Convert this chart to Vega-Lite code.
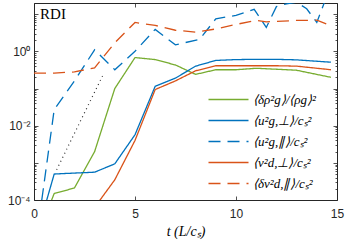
{
 "$schema": "https://vega.github.io/schema/vega-lite/v6.json",
 "width": 303, "height": 197,
 "autosize": {"type": "none"},
 "padding": {"left": 34, "top": 3, "right": 13, "bottom": 45},
 "background": "white",
 "config": {
  "view": {"stroke": "#262626", "strokeWidth": 1},
  "axis": {"domain": false, "grid": false, "labelFont": "Liberation Sans", "labelFontSize": 12, "labelColor": "#262626", "tickColor": "#262626", "tickWidth": 0.8}
 },
 "datasets": {
  "series": [
   {"s": "⟨δρ²g⟩/⟨ρg⟩²", "t": 0, "v": 0.000006},
   {"s": "⟨δρ²g⟩/⟨ρg⟩²", "t": 1, "v": 0.00015},
   {"s": "⟨δρ²g⟩/⟨ρg⟩²", "t": 2, "v": 0.00021},
   {"s": "⟨δρ²g⟩/⟨ρg⟩²", "t": 3, "v": 0.002},
   {"s": "⟨δρ²g⟩/⟨ρg⟩²", "t": 4, "v": 0.1},
   {"s": "⟨δρ²g⟩/⟨ρg⟩²", "t": 5, "v": 0.68},
   {"s": "⟨δρ²g⟩/⟨ρg⟩²", "t": 6, "v": 0.6},
   {"s": "⟨δρ²g⟩/⟨ρg⟩²", "t": 7, "v": 0.43},
   {"s": "⟨δρ²g⟩/⟨ρg⟩²", "t": 8, "v": 0.24},
   {"s": "⟨δρ²g⟩/⟨ρg⟩²", "t": 9, "v": 0.32},
   {"s": "⟨δρ²g⟩/⟨ρg⟩²", "t": 10, "v": 0.32},
   {"s": "⟨δρ²g⟩/⟨ρg⟩²", "t": 11, "v": 0.35},
   {"s": "⟨δρ²g⟩/⟨ρg⟩²", "t": 12, "v": 0.33},
   {"s": "⟨δρ²g⟩/⟨ρg⟩²", "t": 13, "v": 0.31},
   {"s": "⟨δρ²g⟩/⟨ρg⟩²", "t": 14.7, "v": 0.2},
   {"s": "⟨u²g,⊥⟩/cₛ²", "t": 0, "v": 0.0000064},
   {"s": "⟨u²g,⊥⟩/cₛ²", "t": 1, "v": 0.0005},
   {"s": "⟨u²g,⊥⟩/cₛ²", "t": 2, "v": 0.00053},
   {"s": "⟨u²g,⊥⟩/cₛ²", "t": 3, "v": 0.00056},
   {"s": "⟨u²g,⊥⟩/cₛ²", "t": 4, "v": 0.00094},
   {"s": "⟨u²g,⊥⟩/cₛ²", "t": 5, "v": 0.0057},
   {"s": "⟨u²g,⊥⟩/cₛ²", "t": 6, "v": 0.115},
   {"s": "⟨u²g,⊥⟩/cₛ²", "t": 7, "v": 0.19},
   {"s": "⟨u²g,⊥⟩/cₛ²", "t": 8, "v": 0.4},
   {"s": "⟨u²g,⊥⟩/cₛ²", "t": 9, "v": 0.57},
   {"s": "⟨u²g,⊥⟩/cₛ²", "t": 10, "v": 0.6},
   {"s": "⟨u²g,⊥⟩/cₛ²", "t": 11, "v": 0.61},
   {"s": "⟨u²g,⊥⟩/cₛ²", "t": 12, "v": 0.61},
   {"s": "⟨u²g,⊥⟩/cₛ²", "t": 13, "v": 0.59},
   {"s": "⟨u²g,⊥⟩/cₛ²", "t": 14.7, "v": 0.51},
   {"s": "⟨u²g,∥⟩/cₛ²", "t": 0, "v": 0.000003},
   {"s": "⟨u²g,∥⟩/cₛ²", "t": 1, "v": 0.027},
   {"s": "⟨u²g,∥⟩/cₛ²", "t": 2, "v": 0.16},
   {"s": "⟨u²g,∥⟩/cₛ²", "t": 3, "v": 1.1},
   {"s": "⟨u²g,∥⟩/cₛ²", "t": 4, "v": 0.32},
   {"s": "⟨u²g,∥⟩/cₛ²", "t": 5, "v": 1.0},
   {"s": "⟨u²g,∥⟩/cₛ²", "t": 6, "v": 3.9},
   {"s": "⟨u²g,∥⟩/cₛ²", "t": 7, "v": 1.5},
   {"s": "⟨u²g,∥⟩/cₛ²", "t": 8.2, "v": 2.1},
   {"s": "⟨u²g,∥⟩/cₛ²", "t": 9, "v": 7.5},
   {"s": "⟨u²g,∥⟩/cₛ²", "t": 10, "v": 9.3},
   {"s": "⟨u²g,∥⟩/cₛ²", "t": 10.9, "v": 13.5},
   {"s": "⟨u²g,∥⟩/cₛ²", "t": 11.5, "v": 4.4},
   {"s": "⟨u²g,∥⟩/cₛ²", "t": 12, "v": 16},
   {"s": "⟨u²g,∥⟩/cₛ²", "t": 12.5, "v": 19},
   {"s": "⟨u²g,∥⟩/cₛ²", "t": 13, "v": 21},
   {"s": "⟨u²g,∥⟩/cₛ²", "t": 13.5, "v": 14},
   {"s": "⟨u²g,∥⟩/cₛ²", "t": 14, "v": 6},
   {"s": "⟨u²g,∥⟩/cₛ²", "t": 14.7, "v": 60},
   {"s": "⟨v²d,⊥⟩/cₛ²", "t": 3, "v": 0.000063},
   {"s": "⟨v²d,⊥⟩/cₛ²", "t": 4, "v": 0.00035},
   {"s": "⟨v²d,⊥⟩/cₛ²", "t": 5, "v": 0.004},
   {"s": "⟨v²d,⊥⟩/cₛ²", "t": 6, "v": 0.094},
   {"s": "⟨v²d,⊥⟩/cₛ²", "t": 7, "v": 0.16},
   {"s": "⟨v²d,⊥⟩/cₛ²", "t": 8, "v": 0.3},
   {"s": "⟨v²d,⊥⟩/cₛ²", "t": 9, "v": 0.41},
   {"s": "⟨v²d,⊥⟩/cₛ²", "t": 10, "v": 0.41},
   {"s": "⟨v²d,⊥⟩/cₛ²", "t": 11, "v": 0.41},
   {"s": "⟨v²d,⊥⟩/cₛ²", "t": 12, "v": 0.41},
   {"s": "⟨v²d,⊥⟩/cₛ²", "t": 13, "v": 0.4},
   {"s": "⟨v²d,⊥⟩/cₛ²", "t": 14.7, "v": 0.32},
   {"s": "⟨δv²d,∥⟩/cₛ²", "t": 0, "v": 0.26},
   {"s": "⟨δv²d,∥⟩/cₛ²", "t": 1, "v": 0.26},
   {"s": "⟨δv²d,∥⟩/cₛ²", "t": 2, "v": 0.28},
   {"s": "⟨δv²d,∥⟩/cₛ²", "t": 3, "v": 0.36},
   {"s": "⟨δv²d,∥⟩/cₛ²", "t": 4, "v": 1.7},
   {"s": "⟨δv²d,∥⟩/cₛ²", "t": 5, "v": 6},
   {"s": "⟨δv²d,∥⟩/cₛ²", "t": 6, "v": 5},
   {"s": "⟨δv²d,∥⟩/cₛ²", "t": 7, "v": 3.7},
   {"s": "⟨δv²d,∥⟩/cₛ²", "t": 8, "v": 3.3},
   {"s": "⟨δv²d,∥⟩/cₛ²", "t": 9, "v": 4.0},
   {"s": "⟨δv²d,∥⟩/cₛ²", "t": 10, "v": 5.3},
   {"s": "⟨δv²d,∥⟩/cₛ²", "t": 11, "v": 6.8},
   {"s": "⟨δv²d,∥⟩/cₛ²", "t": 11.5, "v": 6.2},
   {"s": "⟨δv²d,∥⟩/cₛ²", "t": 13, "v": 6.8},
   {"s": "⟨δv²d,∥⟩/cₛ²", "t": 14, "v": 6.9},
   {"s": "⟨δv²d,∥⟩/cₛ²", "t": 14.7, "v": 4.9}
  ],
  "ref": [
   {"t": 1.12, "v": 0.00065},
   {"t": 3.43, "v": 0.24}
  ],
  "label": [
   {"t": 0.3, "v": 10, "txt": "RDI"}
  ]
 },
 "layer": [
  {
   "data": {"name": "series"},
   "mark": {"type": "line", "clip": true, "strokeWidth": 1.3},
   "encoding": {
    "x": {"field": "t", "type": "quantitative", "scale": {"domain": [0, 15], "nice": false, "zero": false},
     "axis": {"orient": "bottom", "values": [0, 5, 10, 15], "tickSize": -4, "labelPadding": 12, "labelFlush": false,
      "title": "t (L/cₛ)", "titleFont": "Liberation Serif", "titleFontStyle": "italic", "titleFontSize": 14, "titleFontWeight": "normal", "titleColor": "#000", "titlePadding": 5}},
    "y": {"field": "v", "type": "quantitative", "scale": {"type": "log", "domain": [0.0001, 20], "nice": false},
     "axis": {"orient": "left", "title": null, "labelOverlap": false, "labelFlush": false, "labelPadding": 8,
      "values": [0.0001,0.0002,0.0003,0.0004,0.0005,0.0006,0.0007,0.0008,0.0009,0.001,0.002,0.003,0.004,0.005,0.006,0.007,0.008,0.009,0.01,0.02,0.03,0.04,0.05,0.06,0.07,0.08,0.09,0.1,0.2,0.3,0.4,0.5,0.6,0.7,0.8,0.9,1,2,3,4,5,6,7,8,9,10,20],
      "tickSize": {"condition": {"test": "indexof([0.0001,0.001,0.01,0.1,1,10], datum.value) >= 0", "value": -4}, "value": -2},
      "labelExpr": "datum.value == 1 ? '10⁰' : datum.value == 0.01 ? '10⁻²' : datum.value == 0.0001 ? '10⁻⁴' : ''"}},
    "color": {"field": "s", "type": "nominal",
     "scale": {"domain": ["⟨δρ²g⟩/⟨ρg⟩²", "⟨u²g,⊥⟩/cₛ²", "⟨u²g,∥⟩/cₛ²", "⟨v²d,⊥⟩/cₛ²", "⟨δv²d,∥⟩/cₛ²"], "range": ["#77AC30", "#0072BD", "#0072BD", "#D95319", "#D95319"]},
     "legend": {"orient": "none", "legendX": 188, "legendY": 90, "title": null, "symbolType": "M-4,0H4", "symbolSize": 100, "symbolStrokeWidth": 1.5, "labelFont": "Liberation Serif", "labelFontStyle": "italic", "labelFontSize": 13, "labelOffset": 18, "rowPadding": 7, "padding": 0, "labelColor": "#000"}},
    "strokeDash": {"field": "s", "type": "nominal",
     "scale": {"domain": ["⟨δρ²g⟩/⟨ρg⟩²", "⟨u²g,⊥⟩/cₛ²", "⟨u²g,∥⟩/cₛ²", "⟨v²d,⊥⟩/cₛ²", "⟨δv²d,∥⟩/cₛ²"], "range": [[1, 0], [1, 0], [12, 7], [1, 0], [12, 7]]},
     "legend": {"orient": "none", "legendX": 188, "legendY": 90, "title": null, "symbolType": "M-4,0H4", "symbolSize": 100, "symbolStrokeWidth": 1.5, "labelFont": "Liberation Serif", "labelFontStyle": "italic", "labelFontSize": 13, "labelOffset": 18, "rowPadding": 7, "padding": 0, "labelColor": "#000"}}
   }
  },
  {
   "data": {"name": "ref"},
   "mark": {"type": "line", "color": "#333333", "strokeDash": [1, 3.5], "strokeWidth": 1.2},
   "encoding": {
    "x": {"field": "t", "type": "quantitative", "scale": {"domain": [0, 15], "nice": false, "zero": false},
     "axis": {"orient": "top", "values": [0, 5, 10, 15], "tickSize": -4, "labels": false, "title": null}},
    "y": {"field": "v", "type": "quantitative", "scale": {"type": "log", "domain": [0.0001, 20], "nice": false},
     "axis": {"orient": "right", "title": null, "labels": false,
      "values": [0.0001,0.0002,0.0003,0.0004,0.0005,0.0006,0.0007,0.0008,0.0009,0.001,0.002,0.003,0.004,0.005,0.006,0.007,0.008,0.009,0.01,0.02,0.03,0.04,0.05,0.06,0.07,0.08,0.09,0.1,0.2,0.3,0.4,0.5,0.6,0.7,0.8,0.9,1,2,3,4,5,6,7,8,9,10,20],
      "tickSize": {"condition": {"test": "indexof([0.0001,0.001,0.01,0.1,1,10], datum.value) >= 0", "value": -4}, "value": -2}}}
   }
  },
  {
   "data": {"name": "label"},
   "mark": {"type": "text", "align": "left", "baseline": "middle", "font": "Liberation Serif", "fontSize": 15, "color": "#000"},
   "encoding": {
    "x": {"field": "t", "type": "quantitative", "scale": {"domain": [0, 15], "nice": false, "zero": false}, "axis": null},
    "y": {"field": "v", "type": "quantitative", "scale": {"type": "log", "domain": [0.0001, 20], "nice": false}, "axis": null},
    "text": {"field": "txt"}
   }
  }
 ],
 "resolve": {"axis": {"x": "independent", "y": "independent"}}
}
